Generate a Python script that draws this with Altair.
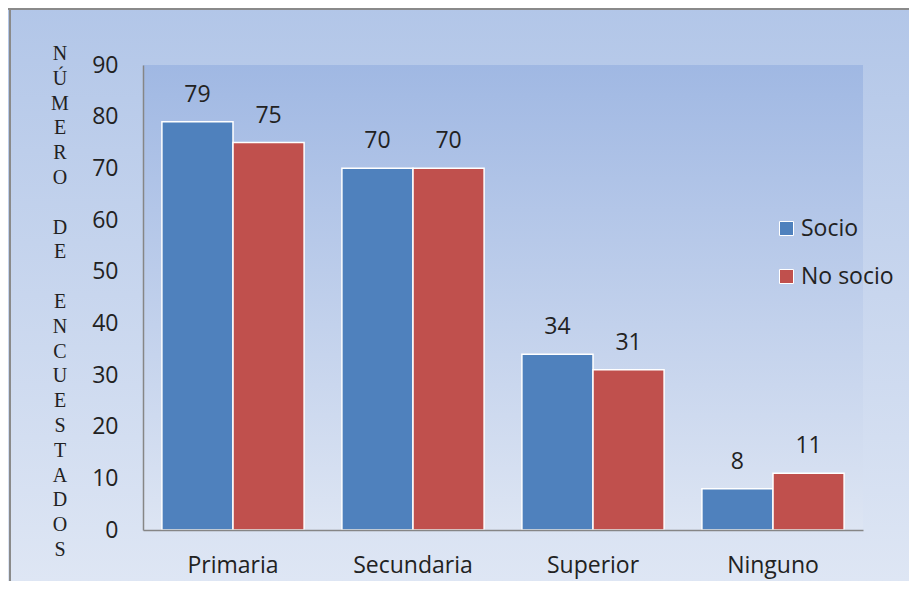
import altair as alt
import pandas as pd

categories = ["Primaria", "Secundaria", "Superior", "Ninguno"]
series = ["Socio", "No socio"]
socio = [79, 70, 34, 8]
no_socio = [75, 70, 31, 11]
y_title_words = ["NÚMERO", "DE", "ENCUESTADOS"]

rows = []
for c, a, b in zip(categories, socio, no_socio):
    rows.append({"cat": c, "serie": "Socio", "valor": a})
    rows.append({"cat": c, "serie": "No socio", "valor": b})
df = pd.DataFrame(rows)

W, H = 720, 465
PL, PT, PR, PB = 135, 57, 46, 51
FONT = "Open Sans"
FS = 23
LH = 24.8

bg = alt.Chart(alt.Data(values=[{}])).mark_rect(
    fill=alt.Gradient(gradient="linear", x1=0, y1=0, x2=0, y2=1,
                      stops=[alt.GradientStop(color="#b2c6e8", offset=0),
                             alt.GradientStop(color="#dee6f4", offset=1)])
).encode(x=alt.value(-PL), x2=alt.value(W + PR), y=alt.value(-PT), y2=alt.value(H + PB))

border = alt.Chart(alt.Data(values=[{}])).mark_rule(color="#8a8a8a", strokeWidth=2)
border_top = border.encode(x=alt.value(-PL), x2=alt.value(W + PR), y=alt.value(-PT + 1))
border_left = border.encode(x=alt.value(-PL + 2), y=alt.value(-PT), y2=alt.value(H + PB))

plotbg = alt.Chart(alt.Data(values=[{}])).mark_rect(
    fill=alt.Gradient(gradient="linear", x1=0, y1=0, x2=0, y2=1,
                      stops=[alt.GradientStop(color="#a0b8e3", offset=0),
                             alt.GradientStop(color="#dde5f3", offset=1)])
).encode(x=alt.value(0), x2=alt.value(W), y=alt.value(0), y2=alt.value(H))

title_layers = []
line = 0
for word in y_title_words:
    title_layers.append(
        alt.Chart(alt.Data(values=[{"t": "\n".join(word)}])).mark_text(
            lineBreak="\n", lineHeight=LH, font="Liberation Serif", fontSize=20,
            color="#222222", align="center", baseline="top"
        ).encode(text="t:N", x=alt.value(-83), y=alt.value(-21 + line * LH))
    )
    line += len(word) + 1

color_scale = alt.Scale(domain=series, range=["#4f81bd", "#c0504d"])
x_enc = alt.X("cat:N", sort=categories,
              scale=alt.Scale(paddingInner=0.21, paddingOuter=0.105),
              axis=alt.Axis(title=None, labelAngle=0, ticks=False, domainColor="#868686",
                            domainWidth=1.5, labelFont=FONT, labelFontSize=FS,
                            labelColor="#222222", labelPadding=24, zindex=1))
y_enc = alt.Y("valor:Q", scale=alt.Scale(domain=[0, 90]),
              axis=alt.Axis(values=list(range(0, 91, 10)), grid=False, ticks=False,
                            domainColor="#868686", domainWidth=1.5,
                            labelFont=FONT, labelFontSize=FS, labelColor="#222222",
                            labelPadding=25, zindex=1, title=None))
xoff = alt.XOffset("serie:N", sort=series, scale=alt.Scale(paddingInner=0, paddingOuter=0))

bars = alt.Chart(df).mark_bar(stroke="white", strokeWidth=1.5).encode(
    x=x_enc, y=y_enc, xOffset=xoff,
    color=alt.Color("serie:N", scale=color_scale, sort=series,
                    legend=alt.Legend(title=None, orient="none", legendX=632, legendY=152,
                                      symbolType="square", symbolSize=196,
                                      symbolStrokeColor="white", symbolStrokeWidth=1,
                                      labelFont=FONT, labelFontSize=FS,
                                      labelColor="#222222", rowPadding=24,
                                      labelOffset=3, zindex=1))
)

labels = alt.Chart(df).mark_text(baseline="alphabetic", dy=-20, font=FONT,
                                 fontSize=FS, color="#222222").encode(
    x=alt.X("cat:N", sort=categories), y="valor:Q", xOffset=xoff, text="valor:Q"
)

chart = alt.layer(bg, border_top, border_left, plotbg, *title_layers, bars, labels).properties(
    width=W, height=H,
    autosize=alt.AutoSizeParams(type="none"),
    padding={"left": PL, "top": PT, "right": PR, "bottom": PB},
).configure_view(stroke=None)

chart.save("out.html", embed_options={"renderer": "svg", "actions": False})
